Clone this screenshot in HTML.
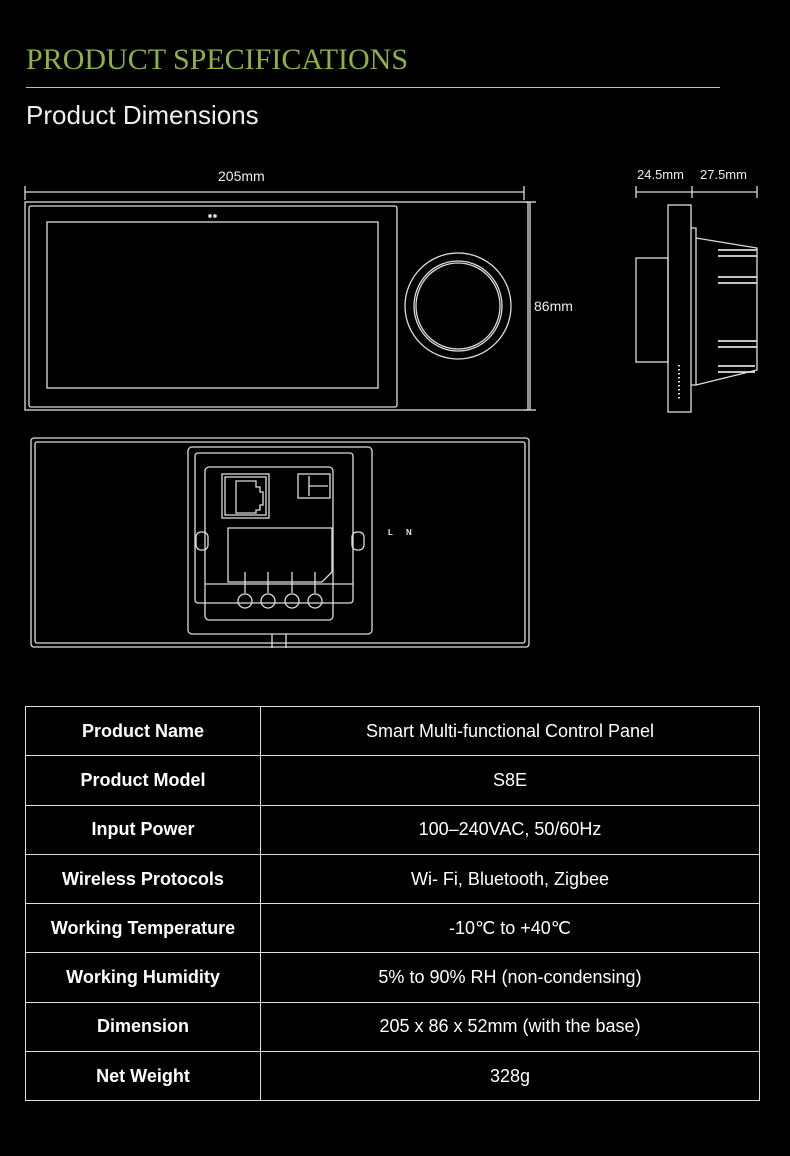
<!DOCTYPE html>
<html><head><meta charset="utf-8"><style>
body{margin:0;width:790px;height:1156px;background:#000;overflow:hidden;font-family:"Liberation Sans",sans-serif;color:#fff;position:relative}
.t1{position:absolute;left:26px;top:43px;font-family:"Liberation Serif",serif;font-size:30px;color:#8fb043}
.hr{position:absolute;left:26px;top:87px;width:694px;height:1px;background:#bbb}
.t2{position:absolute;left:26px;top:100px;font-size:26px;color:#eee}
svg{position:absolute;left:0;top:0}
table{position:absolute;left:25px;top:706px;width:735px;border-collapse:collapse}
td{border:1.5px solid #ddd;height:48.3px;text-align:center;font-size:18px;padding:0}
td.l{width:234px;font-weight:bold}
</style></head><body>
<div class="t1">PRODUCT SPECIFICATIONS</div>
<div class="hr"></div>
<div class="t2">Product Dimensions</div>
<svg width="790" height="700" fill="none" stroke="#ddd" stroke-width="1.3">
<line x1="25" y1="192" x2="524" y2="192"/><line x1="25" y1="186" x2="25" y2="200"/><line x1="524" y1="186" x2="524" y2="200"/>
<text x="218" y="181" fill="#eee" stroke="none" font-size="14" font-family="Liberation Sans">205mm</text>
<rect x="25" y="202" width="503" height="208"/>
<rect x="29" y="206" width="368" height="201" rx="2"/>
<rect x="47" y="222" width="331" height="166"/>
<circle cx="210" cy="216" r="1.2" fill="#ddd"/><circle cx="215" cy="216" r="1.2" fill="#ddd"/>
<ellipse cx="458" cy="306" rx="53" ry="53"/><ellipse cx="458" cy="306" rx="44" ry="45"/><ellipse cx="458" cy="306" rx="42" ry="43"/>
<line x1="530" y1="202" x2="530" y2="410"/><line x1="524" y1="202" x2="536" y2="202"/><line x1="524" y1="410" x2="536" y2="410"/>
<text x="534" y="311" fill="#eee" stroke="none" font-size="14" font-family="Liberation Sans">86mm</text>
<text x="637" y="179" fill="#eee" stroke="none" font-size="13" font-family="Liberation Sans">24.5mm</text>
<text x="700" y="179" fill="#eee" stroke="none" font-size="13" font-family="Liberation Sans">27.5mm</text>
<line x1="636" y1="192" x2="757" y2="192"/><line x1="692" y1="186" x2="692" y2="198"/><line x1="636" y1="186" x2="636" y2="198"/><line x1="757" y1="186" x2="757" y2="198"/>
<rect x="668" y="205" width="23" height="207"/>
<rect x="636" y="258" width="32" height="104"/>
<path d="M691 228 h5 v157 h-5"/>
<path d="M696 238 L757 248 V370 L696 385"/>
<g stroke-width="1.8"><line x1="718" y1="250" x2="757" y2="250"/><line x1="718" y1="256" x2="757" y2="256"/><line x1="718" y1="277" x2="757" y2="277"/><line x1="718" y1="283" x2="757" y2="283"/><line x1="718" y1="341" x2="757" y2="341"/><line x1="718" y1="347" x2="757" y2="347"/><line x1="718" y1="366" x2="755" y2="366"/><line x1="718" y1="372" x2="755" y2="372"/></g>
<line x1="679" y1="365" x2="679" y2="400" stroke-dasharray="1.5 2.5" stroke-width="2"/>
<rect x="31" y="438" width="498" height="209" rx="3"/>
<rect x="35" y="442" width="490" height="201" rx="2"/>
<rect x="188" y="447" width="184" height="187" rx="4"/>
<rect x="195" y="453" width="158" height="150" rx="3"/>
<rect x="205" y="467" width="128" height="153" rx="4"/>
<rect x="222" y="474" width="47" height="44"/><rect x="225" y="477" width="41" height="38"/>
<path d="M236 481 h20 v6 h4 v5 h3 v13 h-3 v5 h-4 v3 h-20 z"/>
<rect x="298" y="474" width="32" height="24"/><line x1="309" y1="476" x2="309" y2="496"/><line x1="309" y1="486" x2="328" y2="486"/>
<path d="M228 528 h104 v44 l-10 10 h-94 z"/>
<line x1="205" y1="584" x2="353" y2="584"/>
<line x1="245" y1="572" x2="245" y2="593"/><line x1="268" y1="572" x2="268" y2="593"/><line x1="292" y1="572" x2="292" y2="593"/><line x1="315" y1="572" x2="315" y2="593"/>
<circle cx="245" cy="601" r="7"/><circle cx="268" cy="601" r="7"/><circle cx="292" cy="601" r="7"/><circle cx="315" cy="601" r="7"/>
<rect x="196" y="532" width="12" height="18" rx="5"/><rect x="352" y="532" width="12" height="18" rx="5"/>
<path d="M272 634 v14 M286 634 v14"/>
<text x="388" y="535" fill="#eee" stroke="none" font-size="8" font-weight="bold">L</text>
<text x="406" y="535" fill="#eee" stroke="none" font-size="8" font-weight="bold">N</text>
</svg>
<table>
<tr><td class="l">Product Name</td><td>Smart Multi-functional Control Panel</td></tr>
<tr><td class="l">Product Model</td><td>S8E</td></tr>
<tr><td class="l">Input Power</td><td>100–240VAC, 50/60Hz</td></tr>
<tr><td class="l">Wireless Protocols</td><td>Wi- Fi, Bluetooth, Zigbee</td></tr>
<tr><td class="l">Working Temperature</td><td>-10℃ to +40℃</td></tr>
<tr><td class="l">Working Humidity</td><td>5% to 90% RH (non-condensing)</td></tr>
<tr><td class="l">Dimension</td><td>205 x 86 x 52mm (with the base)</td></tr>
<tr><td class="l">Net Weight</td><td>328g</td></tr>
</table>
</body></html>
